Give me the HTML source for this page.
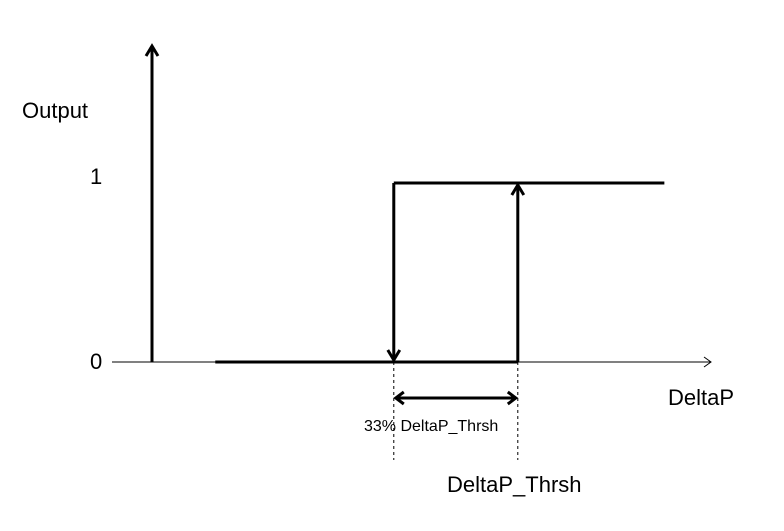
<!DOCTYPE html>
<html><head><meta charset="utf-8"><style>
body{margin:0;background:#fff;width:784px;height:531px;overflow:hidden}
svg{display:block}
text{font-family:"Liberation Sans",sans-serif;fill:#000}
</style></head><body>
<svg id="chart" width="784" height="531" viewBox="0 0 784 531"></svg>
<script>
// data: x in units of DeltaP_Thrsh, y output
const lowerX = [0.195, 1.0];
const upperX = [0.67, 1.39];
const levels = [0, 1];
const thresholds = [0.67, 1.0];
const yTickLabels = ["0", "1"];

const sx = v => 142 + v * 375.8;
const sy = v => 362 - v * 179;
const svg = document.getElementById('chart');
const NS = 'http://www.w3.org/2000/svg';
function mk(tag, attrs, name){
  const e = document.createElementNS(NS, tag);
  for (const k in attrs) e.setAttribute(k, attrs[k]);
  
  
  svg.appendChild(e); return e;
}
function txt(x,y,s,size,name){
  const t = mk('text',{x:x,y:y,'font-size':size},name); t.textContent = s; return t;
}
// axes
mk('line',{x1:112,y1:sy(0),x2:711,y2:sy(0),stroke:'#000','stroke-width':1},'x-axis');
mk('polyline',{points:`704,${sy(0)-5} 711,${sy(0)} 704,${sy(0)+5}`,fill:'none',stroke:'#000','stroke-width':1},'x-axis-arrow');
mk('line',{x1:152,y1:sy(0),x2:152,y2:47,stroke:'#000','stroke-width':3},'y-axis');
mk('polyline',{points:`146,56 152,46 158,56`,fill:'none',stroke:'#000','stroke-width':3},'y-axis-arrow');
// series
mk('line',{x1:sx(lowerX[0]),y1:sy(levels[0]),x2:sx(lowerX[1]),y2:sy(levels[0]),stroke:'#000','stroke-width':3},'lower-branch');
mk('line',{x1:sx(upperX[0]),y1:sy(levels[1]),x2:sx(upperX[1]),y2:sy(levels[1]),stroke:'#000','stroke-width':3},'upper-branch');
const xd = sx(thresholds[0]), xu = sx(thresholds[1]);
mk('line',{x1:xd,y1:sy(levels[1]),x2:xd,y2:sy(levels[0])-2,stroke:'#000','stroke-width':3},'down-transition');
mk('polyline',{points:`${xd-6},${sy(0)-12} ${xd},${sy(0)-2} ${xd+6},${sy(0)-12}`,fill:'none',stroke:'#000','stroke-width':3},'down-arrow');
mk('line',{x1:xu,y1:sy(levels[0]),x2:xu,y2:sy(levels[1])+2,stroke:'#000','stroke-width':3},'up-transition');
mk('polyline',{points:`${xu-6},${sy(1)+12} ${xu},${sy(1)+2} ${xu+6},${sy(1)+12}`,fill:'none',stroke:'#000','stroke-width':3},'up-arrow');
// dashed guides
thresholds.forEach((t,i)=>{
  mk('line',{x1:sx(t),y1:sy(0),x2:sx(t),y2:460,stroke:'#000','stroke-width':1,'stroke-dasharray':'3,3'},'threshold-guide-'+i);
});
// double arrow
mk('line',{x1:xd+2,y1:398,x2:xu-2,y2:398,stroke:'#000','stroke-width':3},'hysteresis-width-arrow');
mk('polyline',{points:`${xd+10},392 ${xd+2},398 ${xd+10},404`,fill:'none',stroke:'#000','stroke-width':3},'hysteresis-arrow-left');
mk('polyline',{points:`${xu-10},392 ${xu-2},398 ${xu-10},404`,fill:'none',stroke:'#000','stroke-width':3},'hysteresis-arrow-right');
// labels
levels.forEach((l,i)=>{ txt(90,sy(l)+7-(l>0?6:0),yTickLabels[i],22,'y-tick-'+yTickLabels[i]); });
txt(22,118,'Output',22,'y-axis-title');
txt(668,405,'DeltaP',22,'x-axis-title');
txt(364,431,'33% DeltaP_Thrsh',16,'hysteresis-label');
txt(447,492,'DeltaP_Thrsh',22,'threshold-label');
</script>
</body></html>
